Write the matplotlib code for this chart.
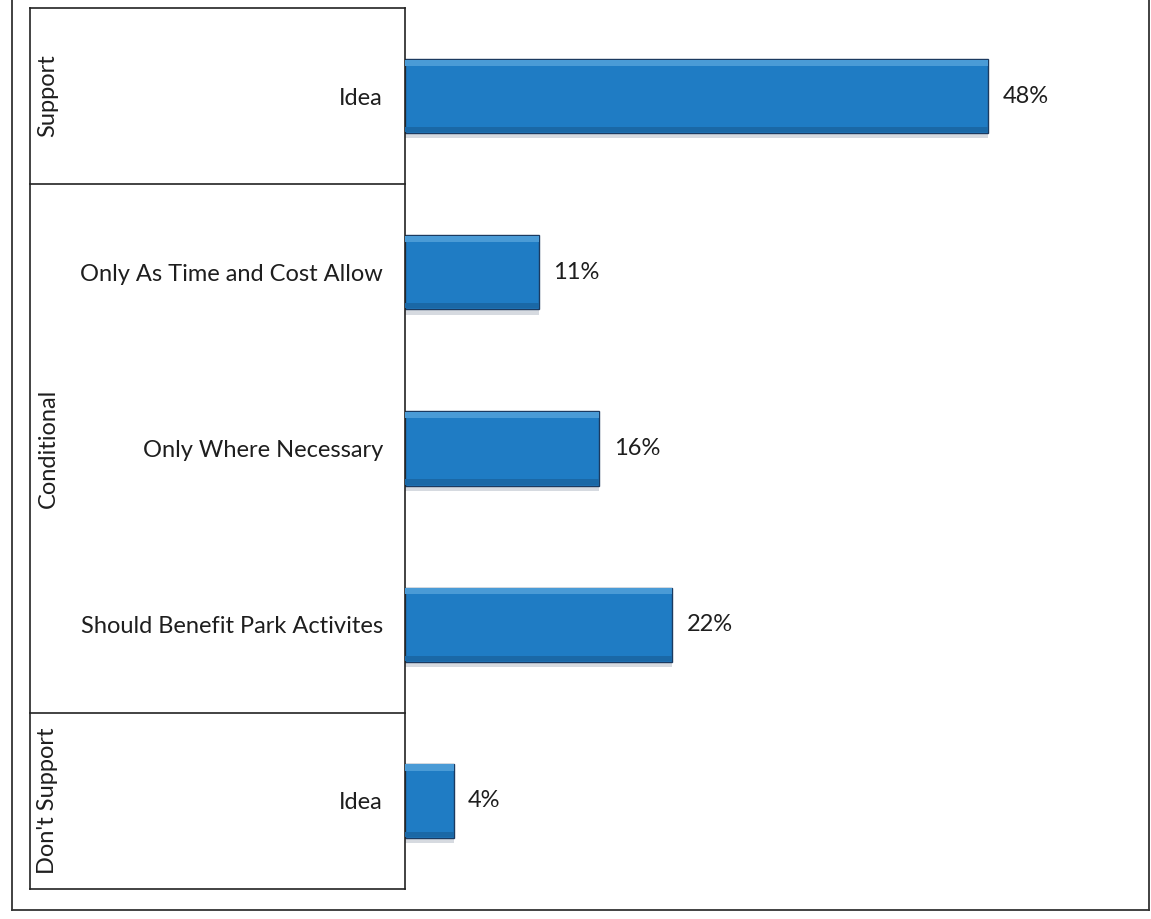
import numpy as np
import matplotlib.pyplot as plt
from matplotlib.transforms import blended_transform_factory
from matplotlib.lines import Line2D

# data, top to bottom
categories = ["Idea", "Only As Time and Cost Allow", "Only Where Necessary",
              "Should Benefit Park Activites", "Idea"]
values = [48, 11, 16, 22, 4]
groups = ["Support", "Conditional", "Don't Support"]
group_sizes = [1, 3, 1]

plt.rcParams['font.family'] = ['Lato', 'DejaVu Sans']

W, H = 1151, 919
fig = plt.figure(figsize=(W / 100, H / 100), dpi=100)

# axes placed in pixel terms
ax_l, ax_r, ax_t, ax_b = 405, 1134, 8, 889
ax = fig.add_axes([ax_l / W, 1 - ax_b / H, (ax_r - ax_l) / W, (ax_b - ax_t) / H])

y = np.arange(len(values))
h = 0.42
main = '#1f7cc4'

# soft shadow, body, then subtle bevel strips
ax.barh(y + 0.03, values, height=h, color='#d6dae0', zorder=1)
ax.barh(y, values, height=h, color=main, edgecolor='#1b3a60', linewidth=1.0, zorder=2)
ax.barh(y - h / 2 + 0.02, values, height=0.035, color='#4a9bd6', zorder=3)
ax.barh(y + h / 2 - 0.02, values, height=0.03, color='#1a68a6', zorder=3)

for yi, v in zip(y, values):
    ax.text(v + 1.2, yi, f"{v}%", va='center', ha='left', fontsize=17, color='#1e1e1e')

ax.set_xlim(0, 60)
ax.set_ylim(len(values) - 0.5, -0.5)
ax.set_yticks(y)
ax.set_yticklabels(categories, fontsize=17, color='#1e1e1e')
ax.tick_params(axis='y', length=0, pad=16)
ax.set_xticks([])
for s in ['top', 'right', 'bottom']:
    ax.spines[s].set_visible(False)
ax.spines['left'].set_color('#222222')
ax.spines['left'].set_linewidth(1.2)

# group box on the left of the category labels
tr = blended_transform_factory(ax.transAxes, ax.transData)
box_left = (30 - ax_l) / (ax_r - ax_l)
bounds = np.concatenate([[0], np.cumsum(group_sizes)]) - 0.5
for b in bounds:
    ax.plot([box_left, 0], [b, b], transform=tr, color='#222222', lw=1.2, clip_on=False)
ax.plot([box_left, box_left], [bounds[0], bounds[-1]], transform=tr, color='#222222',
        lw=1.2, clip_on=False)
label_x = (48 - ax_l) / (ax_r - ax_l)
for g, lo, hi in zip(groups, bounds[:-1], bounds[1:]):
    ax.text(label_x, (lo + hi) / 2, g, transform=tr, rotation=90, ha='center',
            va='center', fontsize=17, color='#1e1e1e')

# outer chart frame (top edge lies above the page)
for xs, ys in [([12, 12], [-5, 910]), ([12, 1149], [910, 910]), ([1149, 1149], [-5, 910])]:
    fig.add_artist(Line2D([x / W for x in xs], [1 - v / H for v in ys],
                          color='#333333', lw=1.3))

fig.savefig('out.png', dpi=100, facecolor='white')
